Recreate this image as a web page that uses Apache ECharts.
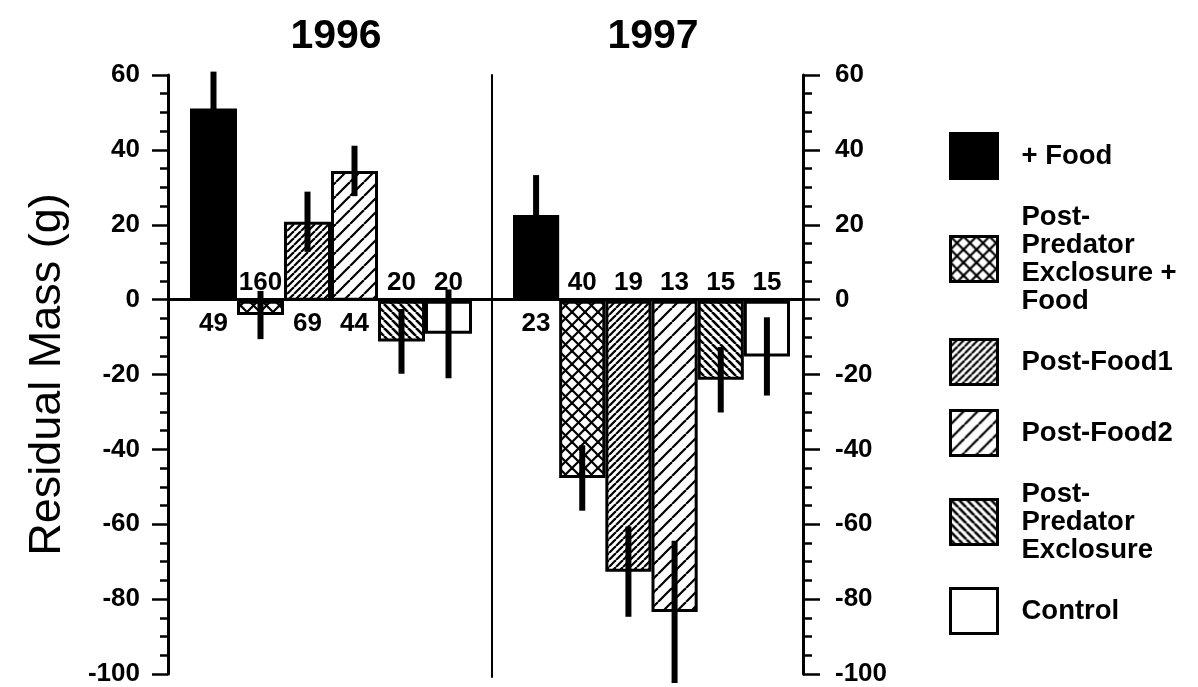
<!DOCTYPE html>
<html><head><meta charset="utf-8">
<script src="https://cdn.jsdelivr.net/npm/echarts@6/dist/echarts.min.js"></script>
<style>html,body{margin:0;padding:0;background:#fff}#c{width:1198px;height:687px}</style>
</head><body><div id="c"></div>
<script>
// ---- data ----
const treatments = ['+ Food', 'Post-Predator Exclosure + Food', 'Post-Food1', 'Post-Food2', 'Post-Predator Exclosure', 'Control'];
const legendLabels = ['+ Food', 'Post-\nPredator\nExclosure +\nFood', 'Post-Food1', 'Post-Food2', 'Post-\nPredator\nExclosure', 'Control'];
const years = ['1996', '1997'];
const mean1996 = [51.1, -3.8, 21.0, 34.5, -10.8, -8.8];
const err1996 = [9.8, 6.4, 8.0, 6.7, 8.6, 11.8];
const n1996 = [49, 160, 69, 44, 20, 20];
const mean1997 = [22.8, -47.1, -72.0, -82.7, -21.0, -14.8];
const err1997 = [10.6, 8.7, 12.0, 18.9, 8.7, 10.4];
const n1997 = [23, 40, 19, 13, 15, 15];
const yMin = -100, yMax = 60, yStep = 20;
const yName = 'Residual Mass (g)';

// ---- styling ----
const FONT = '"Liberation Sans", Arial, Helvetica, sans-serif';
function hatch(size, dirs, lw) {
  const c = document.createElement('canvas');
  c.width = c.height = size;
  const g = c.getContext('2d');
  g.fillStyle = '#fff'; g.fillRect(0, 0, size, size);
  g.strokeStyle = '#000'; g.lineWidth = lw;
  for (const d of dirs) {
    for (const k of [-1, 0, 1]) {
      g.beginPath();
      if (d === '/') { g.moveTo(k * size, size); g.lineTo(k * size + size, 0); }
      else { g.moveTo(k * size, 0); g.lineTo(k * size + size, size); }
      g.stroke();
    }
  }
  return { image: c, repeat: 'repeat' };
}
const fills = ['#000', hatch(13, ['/', '\\'], 2.2), hatch(7, ['/'], 2.2), hatch(14, ['/'], 2.2), hatch(8, ['\\'], 2.6), '#fff'];

const chart = echarts.init(document.getElementById('c'), null, { renderer: 'canvas' });

const series = [];
const meansByYear = [mean1996, mean1997];
const errsByYear = [err1996, err1997];
const nsByYear = [n1996, n1997];
treatments.forEach((t, i) => {
  [0, 1].forEach(g => {
    series.push({
      type: 'bar', name: t, xAxisIndex: g, yAxisIndex: g,
      barGap: '-100%', barCategoryGap: '0%', silent: true,
      data: meansByYear[g].map((v, j) => (j === i ? v : '-')),
      itemStyle: { color: fills[i], borderColor: '#000', borderWidth: 3 }
    });
  });
});
[0, 1].forEach(g => {
  series.push({
    type: 'custom', xAxisIndex: g, yAxisIndex: g, z: 5, clip: false, silent: true,
    data: meansByYear[g].map((m, i) => [i, m, errsByYear[g][i], nsByYear[g][i]]),
    renderItem(params, api) {
      const i = api.value(0), m = api.value(1), e = api.value(2), n = api.value(3);
      const top = api.coord([i, m + e]), bot = api.coord([i, m - e]), zero = api.coord([i, 0]);
      return {
        type: 'group', children: [
          { type: 'line', shape: { x1: top[0], y1: top[1], x2: bot[0], y2: bot[1] }, style: { stroke: '#000', lineWidth: 6 } },
          { type: 'text', x: zero[0], y: zero[1] + (m >= 0 ? 23 : -18),
            style: { text: String(n), fill: '#000', font: 'bold 26px ' + FONT, textAlign: 'center', textVerticalAlign: 'middle' } }
        ]
      };
    }
  });
});

const axisLineStyle = { color: '#000', width: 3 };
const option = {
  animation: false,
  backgroundColor: '#fff',
  textStyle: { fontFamily: FONT, color: '#000' },
  title: [
    { text: years[0], left: 331, top: 11, textAlign: 'center', textStyle: { fontFamily: FONT, fontSize: 41, fontWeight: 'bold', color: '#000' } },
    { text: years[1], left: 648, top: 11, textAlign: 'center', textStyle: { fontFamily: FONT, fontSize: 41, fontWeight: 'bold', color: '#000' } }
  ],
  legend: {
    orient: 'vertical', left: 949, top: 132, padding: 0, itemWidth: 47, itemHeight: 45, itemGap: 23,
    icon: 'rect', selectedMode: false, data: treatments,
    itemStyle: { borderColor: '#000', borderWidth: 3 },
    formatter: name => legendLabels[treatments.indexOf(name)],
    textStyle: { fontFamily: FONT, fontSize: 27.5, fontWeight: 'bold', color: '#000', lineHeight: 28, padding: [0, 0, 0, 19] }
  },
  grid: [
    { left: 190, width: 282, top: 75, height: 602 },
    { left: 513, width: 277, top: 75, height: 602 },
    { left: 168, width: 635, top: 75, height: 602 }
  ],
  xAxis: [
    { gridIndex: 0, type: 'category', data: treatments, show: false },
    { gridIndex: 1, type: 'category', data: treatments, show: false },
    { gridIndex: 2, type: 'value', min: 0, max: 1, axisLine: { show: true, onZero: true, lineStyle: axisLineStyle },
      axisTick: { show: false }, axisLabel: { show: false }, splitLine: { show: false } }
  ],
  yAxis: [
    { gridIndex: 0, type: 'value', min: yMin, max: yMax, interval: yStep, position: 'right', offset: 20,
      axisLine: { show: true, onZero: false, lineStyle: { color: '#000', width: 2 } },
      axisTick: { show: false }, axisLabel: { show: false }, splitLine: { show: false } },
    { gridIndex: 1, type: 'value', min: yMin, max: yMax, interval: yStep, show: false },
    { gridIndex: 2, type: 'value', min: yMin, max: yMax, interval: yStep, position: 'left',
      name: yName, nameLocation: 'middle', nameGap: 98,
      nameTextStyle: { fontFamily: FONT, fontSize: 45, color: '#000' },
      axisLine: { show: true, onZero: false, lineStyle: axisLineStyle },
      axisTick: { show: true, length: 16, lineStyle: { color: '#000', width: 2.5 } },
      minorTick: { show: true, splitNumber: 4, length: 8, lineStyle: { color: '#000', width: 2.5 } },
      axisLabel: { margin: 28, fontFamily: FONT, fontSize: 26, fontWeight: 'bold', color: '#000' },
      splitLine: { show: false }, minorSplitLine: { show: false } },
    { gridIndex: 2, type: 'value', min: yMin, max: yMax, interval: yStep, position: 'right',
      axisLine: { show: true, onZero: false, lineStyle: axisLineStyle },
      axisTick: { show: true, length: 17, lineStyle: { color: '#000', width: 2.5 } },
      minorTick: { show: true, splitNumber: 4, length: 9, lineStyle: { color: '#000', width: 2.5 } },
      axisLabel: { margin: 32, fontFamily: FONT, fontSize: 26, fontWeight: 'bold', color: '#000' },
      splitLine: { show: false }, minorSplitLine: { show: false } }
  ],
  series
};
chart.setOption(option);
</script>
</body></html>
